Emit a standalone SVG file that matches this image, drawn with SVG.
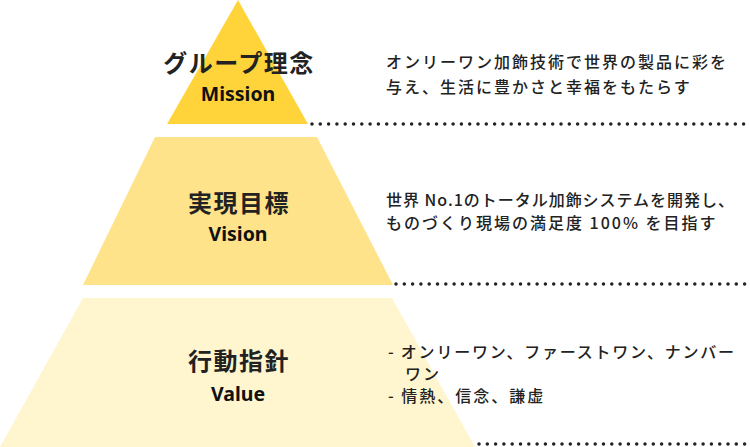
<svg xmlns="http://www.w3.org/2000/svg" width="750" height="447" viewBox="0 0 750 447">
<style>
.t{font-family:"Noto Sans CJK JP","Noto Sans",sans-serif;fill:#222}
.h{font-size:24px;font-weight:700;text-anchor:middle;letter-spacing:1.5px}
.e{font-size:19.5px;font-weight:700;text-anchor:middle;font-family:"Noto Sans",sans-serif;fill:#111}
.d{font-size:16px;font-weight:500;letter-spacing:2px}
.dot{stroke:#222;stroke-width:3.5;stroke-linecap:round;stroke-dasharray:0 8.3;fill:none}
</style>
<rect width="750" height="447" fill="#fff"/>
<g id="mission">
<polygon points="238,0 308,124 167,124" fill="#FFD43B"/>
<text class="t h" x="239" y="72">グループ理念</text>
<text class="e" x="238" y="101">Mission</text>
<text class="t d" x="386" y="68">オンリーワン加飾技術で世界の製品に彩を</text>
<text class="t d" x="386" y="93">与え、生活に豊かさと幸福をもたらす</text>
</g>
<g id="vision">
<polygon points="155,137 317,137 393,285 83,285" fill="#FFE38A"/>
<text class="t h" x="239" y="212">実現目標</text>
<text class="e" x="238" y="241">Vision</text>
<text class="t d" x="386" y="206" textLength="350" lengthAdjust="spacing">世界 No.1のトータル加飾システムを開発し、</text>
<text class="t d" x="386" y="229">ものづくり現場の満足度 100% を目指す</text>
</g>
<g id="value">
<polygon points="83,298 392,298 475,447 0,447" fill="#FFF5CF"/>
<text class="t h" x="239" y="370">行動指針</text>
<text class="e" x="238" y="401">Value</text>
<text class="t d" x="388" y="358" textLength="348" lengthAdjust="spacing">- オンリーワン、ファーストワン、ナンバー</text>
<text class="t d" x="405" y="380">ワン</text>
<text class="t d" x="388" y="402">- 情熱、信念、謙虚</text>
</g>
<g id="connectors">
<line class="dot" x1="312" y1="124" x2="750" y2="124"/>
<line class="dot" x1="396" y1="284" x2="750" y2="284"/>
<line class="dot" x1="479" y1="444" x2="750" y2="444"/>
</g>
</svg>
